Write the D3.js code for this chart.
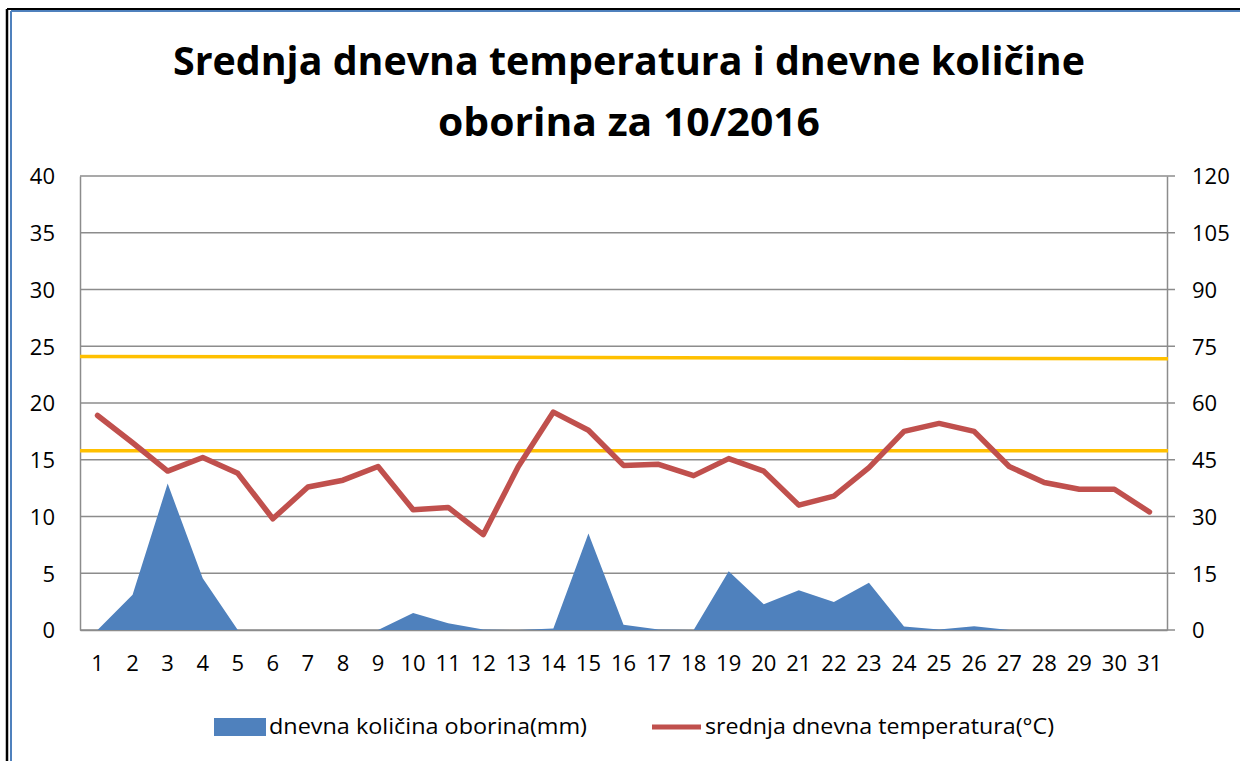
<!DOCTYPE html>
<html>
<body style="margin:0;background:#fff">
    <style>
        body { font-family: "Open Sans", sans-serif; }
        .tick text { font-size: 22px; fill: #000; font-family: "Open Sans", sans-serif; }
    </style>
    <div id="chart"></div>

    <script src="https://d3js.org/d3.v7.min.js"></script>

    <script>

// days of October 2016
var days = d3.range(1, 32);

// mean daily temperature (°C), left axis
var temperature = [18.9, 16.5, 14.0, 15.2, 13.8, 9.8, 12.6, 13.2, 14.4, 10.6,
                   10.8, 8.4, 14.4, 19.2, 17.6, 14.5, 14.6, 13.6, 15.1, 14.0,
                   11.0, 11.8, 14.3, 17.5, 18.2, 17.5, 14.4, 13.0, 12.4, 12.4, 10.4];

// daily precipitation (mm), right axis
var precipitation = [0, 9.3, 38.7, 13.7, 0, 0, 0, 0, 0, 4.5,
                     1.8, 0.1, 0, 0.4, 25.5, 1.4, 0.1, 0, 15.5, 6.8,
                     10.5, 7.4, 12.5, 0.9, 0.1, 1.0, 0, 0, 0, 0, 0];

// yellow reference lines (left axis), start/end values
var refUpper = [24.1, 23.9];
var refLower = [15.8, 15.8];

var leftTicks = d3.range(0, 41, 5);
var rightTicks = d3.range(0, 121, 15);

var titleLines = ["Srednja dnevna temperatura i dnevne količine", "oborina za 10/2016"];
var legendNames = ["dnevna količina oborina(mm)", "srednja dnevna temperatura(°C)"];

var width = 1240,
    height = 761;

var margin = {top: 176, right: 73, bottom: 131, left: 80};
var plotW = width - margin.left - margin.right,
    plotH = height - margin.top - margin.bottom;

var svg = d3.select("#chart")
    .append("svg")
    .attr("width", width)
    .attr("height", height);

// outer frame
svg.append("line").attr("x1", 7).attr("x2", 7).attr("y1", 9).attr("y2", height)
    .style("stroke", "#000").style("stroke-width", 2.5);
svg.append("line").attr("x1", 7).attr("x2", width).attr("y1", 9).attr("y2", 9)
    .style("stroke", "#000").style("stroke-width", 2);
svg.append("line").attr("x1", 11).attr("x2", 11).attr("y1", 11).attr("y2", height)
    .style("stroke", "#4F81BD").style("stroke-width", 2);
svg.append("line").attr("x1", 11).attr("x2", width).attr("y1", 11).attr("y2", 11)
    .style("stroke", "#4F81BD").style("stroke-width", 2);

// title
svg.selectAll(".title")
    .data(titleLines)
  .enter().append("text")
    .attr("class", "title")
    .attr("x", 629)
    .attr("y", function(d, i) { return 75 + i * 61; })
    .attr("text-anchor", "middle")
    .attr("textLength", function(d, i) { return i == 0 ? 912 : 382; })
    .attr("lengthAdjust", "spacingAndGlyphs")
    .style("font-size", "39px")
    .style("font-weight", "bold")
    .text(function(d) { return d; });

var g = svg.append("g")
    .attr("transform", "translate(" + margin.left + "," + margin.top + ")");

var x = d3.scaleBand()
    .domain(days)
    .range([0, plotW]);

var xLin = d3.scaleLinear()
    .domain([0.5, 31.5])
    .range([0, plotW]);

var yLeft = d3.scaleLinear()
    .domain([0, 40])
    .range([plotH, 0]);

var yRight = d3.scaleLinear()
    .domain([0, 120])
    .range([plotH, 0]);

// gridlines
g.selectAll(".grid")
    .data(leftTicks)
  .enter().append("line")
    .attr("class", "grid")
    .attr("x1", 0)
    .attr("x2", plotW + 8)
    .attr("y1", function(d) { return yLeft(d); })
    .attr("y2", function(d) { return yLeft(d); })
    .style("stroke", "#8c8c8c")
    .style("stroke-width", 1.5);

// left axis
var leftAxis = g.append("g")
    .call(d3.axisLeft(yLeft).tickValues(leftTicks).tickSize(0).tickPadding(25));
leftAxis.select(".domain").style("stroke", "#8c8c8c").style("stroke-width", 1.5);
leftAxis.selectAll(".tick text").attr("dy", "0.36em");

// right axis
var rightAxis = g.append("g")
    .attr("transform", "translate(" + plotW + ",0)")
    .call(d3.axisRight(yRight).tickValues(rightTicks).tickSize(0).tickPadding(25));
rightAxis.select(".domain").style("stroke", "#8c8c8c").style("stroke-width", 1.5);
rightAxis.selectAll(".tick text").attr("dy", "0.36em");

// bottom axis
var bottomAxis = g.append("g")
    .attr("transform", "translate(0," + plotH + ")")
    .call(d3.axisBottom(x).tickSize(0).tickPadding(25));
bottomAxis.select(".domain").style("stroke", "#8c8c8c").style("stroke-width", 1.5);

// precipitation area
var area = d3.area()
    .x(function(d, i) { return xLin(days[i]); })
    .y0(plotH)
    .y1(function(d) { return yRight(d); });

g.append("path")
    .datum(precipitation)
    .attr("d", area)
    .style("fill", "#4F81BD");

// yellow reference lines
var refLine = d3.line()
    .x(function(d, i) { return i == 0 ? xLin(0.5) : xLin(31.5) + 1; })
    .y(function(d) { return yLeft(d); });

g.selectAll(".ref")
    .data([refUpper, refLower])
  .enter().append("path")
    .attr("class", "ref")
    .attr("d", refLine)
    .style("fill", "none")
    .style("stroke", "#FFC000")
    .style("stroke-width", 3.5);

// temperature line
var line = d3.line()
    .x(function(d, i) { return xLin(days[i]); })
    .y(function(d) { return yLeft(d); });

g.append("path")
    .datum(temperature)
    .attr("d", line)
    .style("fill", "none")
    .style("stroke", "#C0504D")
    .style("stroke-width", 5.5)
    .style("stroke-linejoin", "round")
    .style("stroke-linecap", "round");

// legend
var legend = svg.append("g");

legend.append("rect")
    .attr("x", 214).attr("y", 718)
    .attr("width", 52).attr("height", 18)
    .style("fill", "#4F81BD");

legend.append("line")
    .attr("x1", 652).attr("x2", 701)
    .attr("y1", 727).attr("y2", 727)
    .style("stroke", "#C0504D")
    .style("stroke-width", 5);

legend.selectAll(".legtext")
    .data(legendNames)
  .enter().append("text")
    .attr("class", "legtext")
    .attr("x", function(d, i) { return i == 0 ? 269 : 705; })
    .attr("y", 734)
    .attr("textLength", function(d, i) { return i == 0 ? 318 : 349; })
    .attr("lengthAdjust", "spacingAndGlyphs")
    .style("font-size", "21px")
    .text(function(d) { return d; });

    </script>
</body>
</html>
